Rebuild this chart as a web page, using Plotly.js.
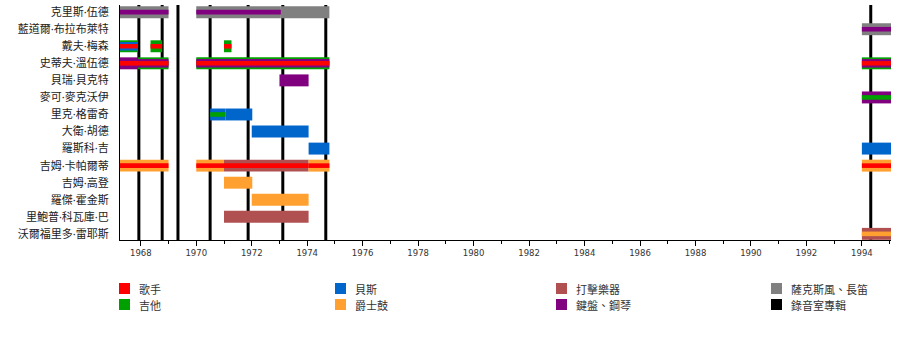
<!DOCTYPE html>
<html><head><meta charset="utf-8">
<script src="https://cdn.plot.ly/plotly-3.0.1.min.js"></script>
<style>html,body{margin:0;padding:0;background:#fff}#chart{width:900px;height:359px}</style>
</head><body><div id="chart"></div>
<script>
// ---- data ----
const members = ['克里斯·伍德','藍道爾·布拉布萊特','戴夫·梅森','史蒂夫·溫伍德','貝瑞·貝克特','麥可·麥克沃伊','里克·格雷奇','大衛·胡德','羅斯科·吉','吉姆·卡帕爾蒂','吉姆·高登','羅傑·霍金斯','里鮑普·科瓦庫·巴','沃爾福里多·雷耶斯'];
const roles = ['歌手','貝斯','打擊樂器','薩克斯風、長笛','吉他','爵士鼓','鍵盤、鋼琴'];
const albumLabel = '錄音室專輯';
const albumYears = [1967.93, 1968.77, 1969.34, 1970.5, 1971.87, 1973.12, 1974.67, 1994.32];
const xTickYears = [1968,1970,1972,1974,1976,1978,1980,1982,1984,1986,1988,1990,1992,1994];

const segMember = ['克里斯·伍德','克里斯·伍德','克里斯·伍德','藍道爾·布拉布萊特',
  '戴夫·梅森','戴夫·梅森','戴夫·梅森',
  '史蒂夫·溫伍德','史蒂夫·溫伍德','史蒂夫·溫伍德','史蒂夫·溫伍德',
  '貝瑞·貝克特','麥可·麥克沃伊','里克·格雷奇','里克·格雷奇','大衛·胡德','羅斯科·吉','羅斯科·吉',
  '吉姆·卡帕爾蒂','吉姆·卡帕爾蒂','吉姆·卡帕爾蒂','吉姆·卡帕爾蒂','吉姆·卡帕爾蒂',
  '吉姆·高登','羅傑·霍金斯','里鮑普·科瓦庫·巴','沃爾福里多·雷耶斯'];
const segStart = [1967.25, 1970.0, 1973.05, 1994.0,
  1967.25, 1968.35, 1971.0,
  1967.25, 1967.9, 1970.0, 1994.0,
  1973.0, 1994.0, 1970.5, 1971.05, 1972.0, 1974.05, 1994.0,
  1967.25, 1970.0, 1971.0, 1974.05, 1994.0,
  1971.0, 1972.0, 1971.0, 1994.0];
const segEnd = [1969.0, 1973.05, 1974.8, 1995.05,
  1967.9, 1968.77, 1971.27,
  1967.9, 1969.0, 1974.8, 1995.05,
  1974.05, 1995.05, 1971.05, 1972.02, 1974.05, 1974.8, 1995.05,
  1969.0, 1971.0, 1974.05, 1974.8, 1995.05,
  1972.02, 1974.05, 1974.05, 1995.05];
const segRole1 = ['薩克斯風、長笛','薩克斯風、長笛','薩克斯風、長笛','薩克斯風、長笛',
  '吉他','吉他','吉他',
  '鍵盤、鋼琴','吉他','吉他','吉他',
  '鍵盤、鋼琴','鍵盤、鋼琴','貝斯','貝斯','貝斯','貝斯','貝斯',
  '爵士鼓','爵士鼓','打擊樂器','爵士鼓','爵士鼓',
  '爵士鼓','爵士鼓','打擊樂器','打擊樂器'];
const segRole2 = ['鍵盤、鋼琴','鍵盤、鋼琴','','鍵盤、鋼琴',
  '貝斯','歌手','歌手',
  '歌手','鍵盤、鋼琴','鍵盤、鋼琴','鍵盤、鋼琴',
  '','吉他','吉他','','','','',
  '歌手','歌手','歌手','歌手','歌手',
  '','','','爵士鼓'];
const segRole3 = ['','','','',
  '歌手','','',
  '','歌手','歌手','歌手',
  '','','','','','','',
  '','','','','',
  '','','',''];
const legendLabels = roles.concat([albumLabel]);

// ---- style ----
const roleColor = {'歌手':'#ff0000','貝斯':'#0066cc','打擊樂器':'#b05050','薩克斯風、長笛':'#808080',
  '吉他':'#00a000','爵士鼓':'#ffa030','鍵盤、鋼琴':'#800080'};
roleColor[albumLabel] = '#000000';
const widthByCount = {1:[0.7],2:[0.7,0.27],3:[0.7,0.5,0.26]};

const roleLayers = [segRole1, segRole2, segRole3];
const traces = [];
roleLayers.forEach((layer, d) => {
  roles.forEach(r => {
    const y=[], x=[], base=[], w=[];
    layer.forEach((role, i) => {
      if (role !== r) return;
      const n = 1 + (segRole2[i] ? 1 : 0) + (segRole3[i] ? 1 : 0);
      y.push(segMember[i]); base.push(segStart[i]); x.push(segEnd[i]-segStart[i]);
      w.push(widthByCount[n][d]);
    });
    if (!y.length) return;
    traces.push({type:'bar', orientation:'h', y, x, base, width:w,
      marker:{color:roleColor[r], line:{width:0}}, name:r, showlegend:false, hoverinfo:'skip'});
  });
});

const shapes = albumYears.map(a => ({type:'line', xref:'x', yref:'paper', x0:a, x1:a, y0:0, y1:1,
  line:{color:'#000', width:3}, layer:'below'}));

// manual legend grid (4 columns x 2 rows), in paper coordinates
const plotL = 120, plotW = 771, plotB = 240, plotH = 235;
const colPx = [119, 335, 556, 771], rowPx = [283, 299];
const annotations = [];
const px2x = p => (p - plotL) / plotW, px2y = p => (plotB - p) / plotH;
legendLabels.forEach((lab, i) => {
  const c = i % 4, r = Math.floor(i / 4);
  const x0 = colPx[c], y0 = rowPx[r];
  shapes.push({type:'rect', xref:'paper', yref:'paper', x0:px2x(x0), x1:px2x(x0+11),
    y0:px2y(y0), y1:px2y(y0+11), fillcolor:roleColor[lab], line:{width:0}});
  annotations.push({xref:'paper', yref:'paper', x:px2x(x0+18), y:px2y(y0+5.5), text:lab,
    showarrow:false, xanchor:'left', yanchor:'middle',
    font:{family:'Noto Sans CJK TC', size:11, color:'#333'}});
});

const layout = {
  width:900, height:359,
  margin:{l:120, r:9, t:5, b:119},
  barmode:'overlay',
  paper_bgcolor:'#fff', plot_bgcolor:'#fff',
  hovermode:false, showlegend:false,
  shapes, annotations,
  xaxis:{range:[1967.25,1995.05], tickvals:xTickYears, ticks:'outside', ticklen:5, tickcolor:'#000',
    showline:true, linecolor:'#000', linewidth:1, showgrid:false, zeroline:false,
    minor:{dtick:1, tick0:1967, ticks:'outside', ticklen:3, tickcolor:'#000', showgrid:false},
    tickfont:{family:'DejaVu Sans', size:8.5, color:'#333'}},
  yaxis:{type:'category', categoryorder:'array', categoryarray:members, range:[13.36,-0.42],
    showline:true, linecolor:'#000', linewidth:1, showgrid:false, zeroline:false, ticks:'',
    ticklabelstandoff:8,
    tickfont:{family:'Noto Sans, Noto Sans CJK TC', size:11, color:'#222'}},
  font:{family:'Noto Sans CJK TC'}
};
Plotly.newPlot('chart', traces, layout, {displayModeBar:false, staticPlot:true});
</script></body></html>
